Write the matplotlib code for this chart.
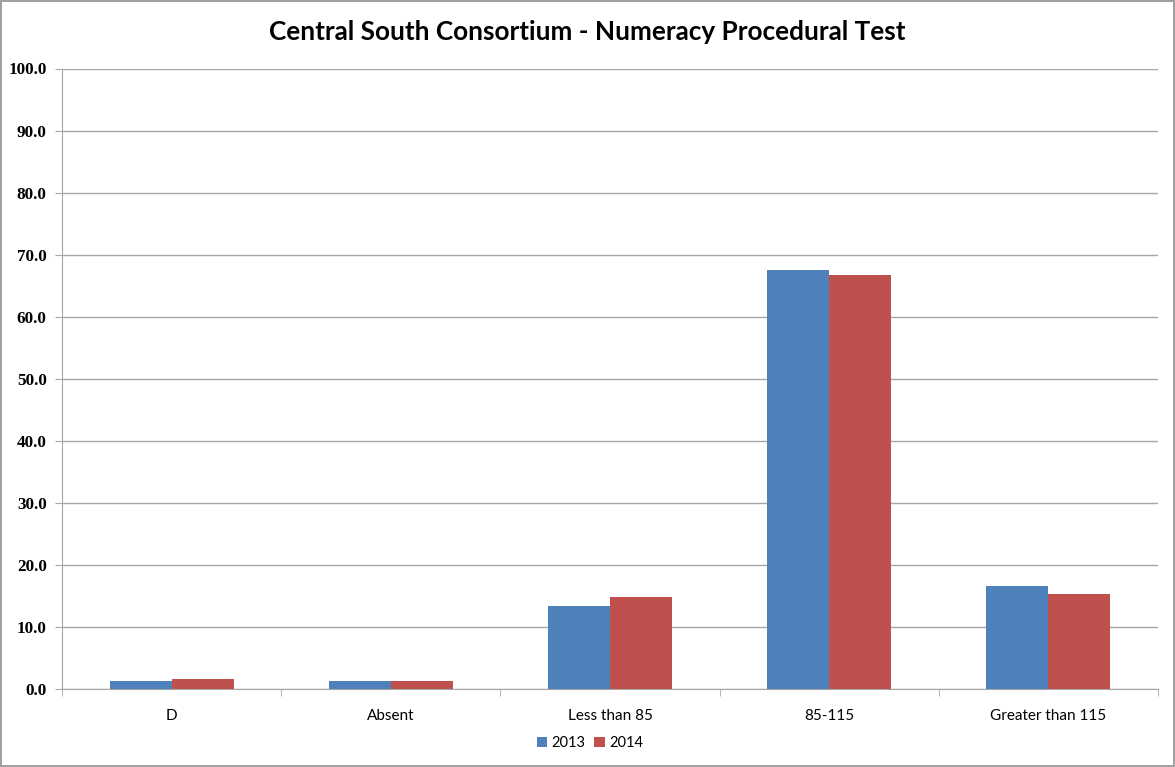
import matplotlib.pyplot as plt
import numpy as np

categories = ['D', 'Absent', 'Less than 85', '85-115', 'Greater than 115']
series_2013 = [1.4, 1.4, 13.4, 67.5, 16.6]
series_2014 = [1.7, 1.4, 14.8, 66.7, 15.3]
y_ticks = [0, 10, 20, 30, 40, 50, 60, 70, 80, 90, 100]

fig = plt.figure(figsize=(11.75, 7.67), dpi=100)
fig.patch.set_edgecolor('#a0a0a0')
fig.patch.set_linewidth(1.5)

ax = fig.add_axes([62 / 1175, 1 - 689.3 / 767, 1096 / 1175, 620.8 / 767])

x = np.arange(len(categories))
w = 0.283
ax.bar(x - w / 2, series_2013, w, color='#4f81bd', label='2013', zorder=3)
ax.bar(x + w / 2, series_2014, w, color='#c0504d', label='2014', zorder=3)

ax.set_xlim(-0.5, len(categories) - 0.5)
ax.set_ylim(0, 100)
ax.set_yticks(y_ticks)
ax.set_yticklabels(['%.1f' % v for v in y_ticks], family='Liberation Serif',
                   fontweight='bold', fontsize=12.3)
ax.yaxis.grid(True, color='#a6a6a6', linewidth=1, zorder=0)

ax.set_xticks(x)
ax.set_xticklabels(categories, family='Lato', fontsize=11)
ax.tick_params(axis='x', length=0, pad=14)
ax.set_xticks(np.arange(len(categories) + 1) - 0.5, minor=True)
ax.tick_params(axis='x', which='minor', length=5, color='#a6a6a6')
ax.tick_params(axis='y', length=5, color='#a6a6a6', pad=6)

for s in ['top', 'right']:
    ax.spines[s].set_visible(False)
ax.spines['left'].set_color('#a6a6a6')
ax.spines['bottom'].set_color('#a6a6a6')

fig.text(587 / 1175, 1 - 32 / 767, 'Central South Consortium - Numeracy Procedural Test',
         ha='center', va='center', family='Lato', fontweight='bold', fontsize=18.8)

leg = fig.legend(loc='center', bbox_to_anchor=(590 / 1175, 1 - 743 / 767), ncol=2,
                 frameon=False, prop={'family': 'Lato', 'size': 10.5},
                 handlelength=0.7, handleheight=0.7, handletextpad=0.3, columnspacing=0.6)

fig.savefig('out.png', dpi=100, edgecolor=fig.get_edgecolor())
